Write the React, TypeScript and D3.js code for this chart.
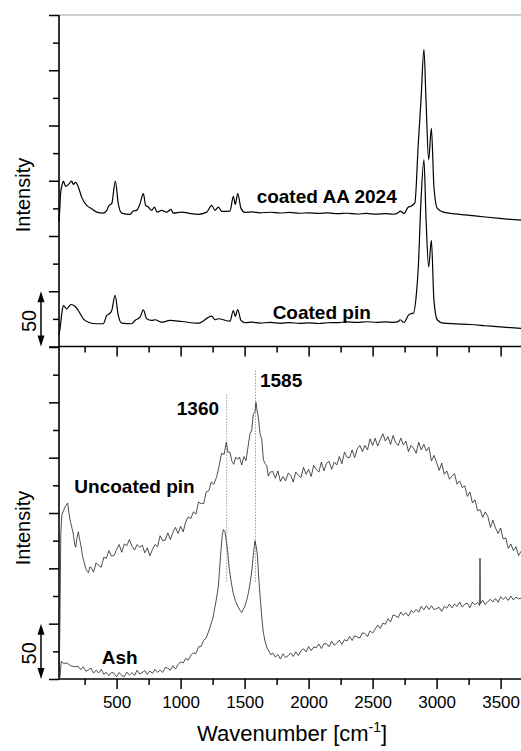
import React, { useEffect, useRef } from 'react';
import * as d3 from 'd3';

// Raman spectra, intensity in arbitrary units (one major tick = 50)
const xTicks = [500, 1000, 1500, 2000, 2500, 3000, 3500];
const xMinorTicks = [250, 750, 1250, 1750, 2250, 2750, 3250];
const yTicks = [0, 50, 100, 150, 200, 250, 300];
const yMinorTicks = [25, 75, 125, 175, 225, 275];
const scaleBarValue = 50;

const coatedAA: [number, number][] = [
  [50, 113], [56, 124], [62, 138], [76, 147], [84, 149.7], [102, 144.9], [123, 146.5], [149, 149.7], [162, 146.7],
  [180, 148.6], [201, 144.3], [227, 135.2], [266, 127.7], [305, 124.7], [345, 121.6], [396, 120.7], [423, 123.2],
  [441, 127.7], [462, 129.3], [490, 149.7], [513, 129.3], [540, 120.7], [605, 119.6], [630, 122.6], [657, 123.2],
  [683, 129.3], [709, 138.3], [727, 127.7], [748, 126.2], [774, 123.2], [795, 126.2], [816, 121.6], [852, 123.2],
  [891, 121.6], [925, 124.1], [942, 120.7], [1009, 121.6], [1060, 120.7], [1138, 119.6], [1204, 121.6], [1243, 127.7],
  [1269, 123.2], [1295, 126.2], [1321, 122.3], [1386, 122.6], [1412, 135.9], [1427, 128.6], [1446, 138.3], [1472, 125],
  [1503, 121.4], [1560, 121.8], [1620, 121], [1700, 121.5], [1780, 120.8], [1850, 121.3], [1930, 120.6], [2000, 121],
  [2080, 120.4], [2150, 120.9], [2230, 120.2], [2300, 120.6], [2380, 119.9], [2450, 120.4], [2530, 119.8], [2600, 120.2],
  [2660, 119.7], [2700, 121], [2715, 122.6], [2745, 120.5], [2779, 126.2], [2800, 127], [2830, 130], [2857, 184],
  [2878, 223], [2901, 269], [2917, 223], [2938, 169], [2959, 197.5], [2979, 144.6], [3006, 125], [3052, 121.6],
  [3150, 120], [3261, 118.7], [3380, 117.2], [3495, 115.9], [3580, 115], [3660, 114.3],
];

const coatedPin: [number, number][] = [
  [50, 10.4], [60, 18], [72, 30], [84, 37], [110, 34.1], [144, 38], [175, 36.5], [201, 32.6], [240, 25.1], [279, 22],
  [345, 20.6], [396, 20.6], [423, 28.1], [443, 29.6], [462, 32.6], [488, 46.2], [513, 28.1], [540, 21.1], [618, 20.6],
  [644, 23.6], [683, 26.5], [709, 33.2], [735, 25.1], [774, 23.6], [800, 24.2], [852, 22], [917, 23.6], [1009, 22.6],
  [1138, 21.1], [1243, 27.4], [1269, 24.2], [1295, 25.1], [1386, 22.9], [1412, 32.6], [1427, 27.2], [1446, 33.5],
  [1472, 23.6], [1503, 21.5], [1560, 22], [1620, 21.2], [1700, 21.8], [1780, 21], [1850, 21.6], [1930, 20.9], [2000, 21.4],
  [2080, 20.8], [2150, 21.5], [2230, 21.6], [2300, 22.3], [2380, 21.8], [2450, 22.4], [2530, 21.9], [2600, 22.3],
  [2660, 21.8], [2700, 22.5], [2715, 24.2], [2745, 21.7], [2779, 28.1], [2808, 29.9], [2818, 30], [2840, 45], [2857, 72],
  [2878, 132], [2901, 169], [2917, 117], [2938, 72], [2959, 96], [2979, 42], [3006, 24], [3052, 21.1], [3150, 20.5],
  [3261, 19.9], [3380, 18.8], [3495, 17.7], [3580, 17], [3660, 16.4],
];

const uncoatedPin: [number, number][] = [
  [52, 4], [58, 60], [64, 130], [72, 148], [84, 152], [100, 156], [118, 159], [128, 150], [136, 144], [150, 137],
  [162, 131], [172, 122], [180, 119], [190, 127], [201, 133], [210, 127], [222, 120], [235, 110], [248, 105], [258, 100],
  [266, 98], [280, 96], [290, 101],
  [300, 101], [320, 96.5], [340, 105], [360, 102.5], [380, 101], [400, 110], [420, 109], [440, 116], [460, 111],
  [480, 111.5], [500, 117], [520, 121.5], [540, 114.5], [560, 122], [580, 120.5], [600, 126], [620, 120], [640, 116.5],
  [660, 121.5], [680, 119], [700, 121], [720, 114], [740, 118.5], [760, 111.3], [780, 117], [800, 121.5], [820, 119.5],
  [840, 129.5], [860, 125], [880, 125.5], [900, 132], [920, 126], [940, 132.5], [960, 137], [980, 131.5], [1000, 138],
  [1020, 133], [1040, 142], [1060, 146.5], [1080, 145], [1100, 151], [1120, 149], [1140, 160], [1160, 158.5],
  [1180, 158.5], [1200, 169], [1220, 170], [1240, 178], [1260, 176], [1280, 182], [1300, 192], [1320, 204], [1340, 203],
  [1357, 214], [1370, 205], [1385, 205], [1400, 197], [1415, 194], [1430, 200.5], [1445, 198.5], [1460, 200.5],
  [1477, 193.4], [1495, 201], [1511, 197.4], [1527, 210], [1542, 221.5], [1556, 225], [1568, 239.6], [1580, 241],
  [1589, 250], [1598, 242], [1607, 237], [1620, 222], [1634, 216.5], [1647, 198], [1659, 194.8], [1672, 193],
  [1685, 183.3], [1700, 187],
  [1720, 187.5], [1740, 181.5], [1760, 188], [1780, 178.5], [1800, 183], [1820, 179], [1840, 186], [1860, 184],
  [1880, 178], [1900, 187], [1920, 184], [1940, 182], [1960, 191.3], [1980, 185], [2000, 189.5], [2020, 183], [2040, 193],
  [2060, 189.3], [2080, 187], [2100, 196], [2120, 188], [2140, 195], [2160, 196.7], [2180, 189.5], [2200, 196],
  [2220, 193.4], [2240, 201], [2260, 194.5], [2280, 205], [2300, 200.5], [2320, 200], [2340, 207], [2360, 200],
  [2380, 208], [2400, 211], [2420, 205.5], [2440, 211], [2460, 207], [2480, 217], [2500, 211], [2520, 217.5],
  [2540, 210.5], [2560, 216.5], [2580, 221.5], [2600, 215], [2620, 219], [2640, 212], [2660, 220], [2680, 213.5],
  [2700, 211], [2720, 217.7], [2740, 211.5], [2760, 215], [2780, 205.5], [2800, 211], [2820, 208.5], [2840, 204],
  [2860, 214], [2880, 207], [2900, 212], [2920, 206], [2940, 209.5], [2960, 197], [2980, 202], [3000, 195.5],
  [3020, 188.5], [3040, 195], [3060, 185], [3080, 188], [3100, 180.5], [3120, 183.5], [3140, 185.5], [3160, 176],
  [3180, 179], [3200, 173], [3220, 174.5], [3240, 165], [3260, 169], [3280, 159], [3300, 162], [3320, 152], [3340, 153],
  [3360, 146], [3380, 151], [3400, 147], [3420, 137], [3440, 143.5], [3460, 136.5], [3480, 131.5], [3500, 136.5],
  [3520, 126.5], [3540, 127.5], [3560, 118], [3580, 122], [3600, 116], [3620, 119.5], [3640, 111.5], [3660, 115.5],
];

const ash: [number, number][] = [
  [50, 0], [58, 2], [64, 12], [68, 16], [75, 15], [90, 14], [110, 14.5], [140, 12], [175, 11],
  [200, 11.5], [220, 8.5], [240, 11], [260, 7], [280, 8.2], [300, 9.8], [320, 5.3], [340, 8], [360, 5.5], [380, 8.7],
  [400, 4.3], [420, 6], [440, 3], [460, 6.1], [480, 5.2], [500, 2], [520, 5.8], [540, 3.1], [560, 2.3], [580, 6.2],
  [600, 3.5], [620, 5.8], [640, 3.2], [660, 7.9], [680, 4.6], [700, 5.8], [720, 7.5], [740, 4.2], [760, 7.3], [780, 5],
  [800, 8.6], [820, 6], [840, 8], [860, 6], [880, 10.4], [900, 9.8], [920, 7.9], [940, 12], [960, 9], [980, 13],
  [1000, 15.5], [1020, 14.5], [1040, 18.7], [1060, 17], [1080, 21.5], [1100, 23.5], [1120, 23], [1140, 29], [1160, 29.5],
  [1180, 35], [1200, 37], [1225, 45], [1250, 54], [1270, 66], [1285, 76], [1295, 84],
  [1305, 100], [1315, 116], [1325, 130], [1335, 135], [1347, 133], [1358, 124], [1368, 115], [1380, 100], [1395, 88],
  [1410, 78], [1430, 70], [1450, 65], [1465, 62], [1477, 60], [1490, 63], [1503, 66], [1518, 72], [1530, 78], [1545, 88],
  [1558, 100], [1570, 114], [1581, 125], [1590, 120], [1600, 112], [1610, 92], [1620, 76], [1635, 55], [1646, 42],
  [1660, 34], [1675, 28], [1690, 25], [1705, 22],
  [1720, 23.5], [1740, 19.7], [1760, 22], [1780, 18.1], [1800, 22.7], [1820, 19.5], [1840, 21], [1860, 23.6], [1880, 20.3],
  [1900, 24.5], [1920, 21.2], [1940, 25.5], [1960, 27.3], [1980, 24.5], [2000, 29.3], [2020, 25.6], [2040, 29],
  [2060, 28.2], [2080, 31.6], [2100, 27.5], [2120, 31.9], [2140, 31.8], [2160, 29.2], [2180, 34.1], [2200, 30.5],
  [2220, 32.3], [2240, 35], [2260, 31.3], [2280, 35.5], [2300, 34.3], [2320, 38.5], [2340, 34.8], [2360, 39.1],
  [2380, 37.9], [2400, 37], [2420, 41.6], [2440, 41.2], [2460, 38.3], [2480, 43.4], [2500, 41.5], [2520, 45.1],
  [2540, 48.7], [2560, 45.8], [2580, 50.5], [2600, 49.5], [2620, 54.5], [2640, 51.5], [2660, 57.9], [2680, 57],
  [2700, 55.5], [2720, 60.5], [2740, 57.5], [2760, 60], [2780, 56.8], [2800, 61.8], [2820, 60], [2840, 62.9], [2860, 60.3],
  [2880, 65.7], [2900, 62.6], [2920, 66.2], [2940, 62.8], [2960, 66.2], [2980, 62.7], [3000, 63.7], [3020, 64.7],
  [3040, 61], [3060, 65.8], [3080, 64], [3100, 67.7], [3120, 64.3], [3140, 67.8], [3160, 65.5], [3180, 69.5], [3200, 65],
  [3220, 67.5], [3240, 68.5], [3260, 64.5], [3280, 69.5], [3300, 67], [3320, 69.3], [3336, 66.3], [3339, 109], [3342, 68],
  [3360, 71.1], [3380, 67.1], [3400, 70], [3420, 72], [3440, 69.6], [3460, 72.7], [3480, 69.3], [3500, 74.4], [3520, 72],
  [3540, 74], [3560, 71], [3580, 75], [3600, 71.5], [3620, 74], [3640, 72.5], [3660, 73],
];

const peakLines = [
  { v: 1360, from: 88, to: 257 },
  { v: 1585, from: 88, to: 280 },
];

const font = '"Liberation Sans", Arial, Helvetica, sans-serif';

const width = 521;
const height = 751;
const left = 59;
const top = 15;
const mid = 346.5;
const bottom = 679;

const x = d3.scaleLinear().domain([50, 3660]).range([left, 521.1]);
const yTop = d3.scaleLinear().domain([0, 300]).range([mid, top]);
const yBot = d3.scaleLinear().domain([0, 300]).range([bottom, mid + 0.5]);

const topLine = d3.line<[number, number]>().x(d => x(d[0])).y(d => yTop(d[1])).curve(d3.curveMonotoneX);
const noisyLine = d3.line<[number, number]>().x(d => x(d[0])).y(d => yBot(d[1]));

const ScaleBar = ({ y }: { y: d3.ScaleLinear<number, number> }) => {
  const y0 = y(0);
  const y1 = y(scaleBarValue);
  const ax = 41;
  return (
    <g>
      <line x1={ax} x2={ax} y1={y1 + 6} y2={y0 - 6} stroke="#000" strokeWidth={1.5} />
      <polygon points={`${ax},${y1} ${ax - 3.5},${y1 + 11} ${ax + 3.5},${y1 + 11}`} fill="#000" />
      <polygon points={`${ax},${y0} ${ax - 3.5},${y0 - 11} ${ax + 3.5},${y0 - 11}`} fill="#000" />
      <text transform={`translate(36, ${(y0 + y1) / 2 + 2}) rotate(-90)`} textAnchor="middle"
        fontFamily={font} fontSize={20}>{scaleBarValue}</text>
    </g>
  );
};

export default function App() {
  const midMajor = useRef<SVGGElement>(null);
  const midMinor = useRef<SVGGElement>(null);
  const botMajor = useRef<SVGGElement>(null);
  const botMinor = useRef<SVGGElement>(null);
  const leftTopMajor = useRef<SVGGElement>(null);
  const leftTopMinor = useRef<SVGGElement>(null);
  const leftBotMajor = useRef<SVGGElement>(null);
  const leftBotMinor = useRef<SVGGElement>(null);

  useEffect(() => {
    const style = (g: any) => {
      g.select('.domain').remove();
      g.selectAll('line').attr('stroke', '#000').attr('stroke-width', 1.5);
      g.selectAll('text').attr('font-family', font).attr('font-size', 17).attr('fill', '#000');
    };
    const none = () => '';
    d3.select(midMajor.current).call(d3.axisBottom(x).tickValues(xTicks).tickSize(10).tickFormat(none)).call(style);
    d3.select(midMinor.current).call(d3.axisBottom(x).tickValues(xMinorTicks).tickSize(6).tickFormat(none)).call(style);
    d3.select(botMajor.current)
      .call(d3.axisBottom(x).tickValues(xTicks).tickSize(10).tickPadding(7).tickFormat(d3.format('d')))
      .call(style);
    d3.select(botMinor.current).call(d3.axisBottom(x).tickValues(xMinorTicks).tickSize(6).tickFormat(none)).call(style);
    d3.select(leftTopMajor.current).call(d3.axisLeft(yTop).tickValues(yTicks).tickSize(10).tickFormat(none)).call(style);
    d3.select(leftTopMinor.current).call(d3.axisLeft(yTop).tickValues(yMinorTicks).tickSize(6).tickFormat(none)).call(style);
    d3.select(leftBotMajor.current).call(d3.axisLeft(yBot).tickValues(yTicks).tickSize(10).tickFormat(none)).call(style);
    d3.select(leftBotMinor.current).call(d3.axisLeft(yBot).tickValues(yMinorTicks).tickSize(6).tickFormat(none)).call(style);
  }, []);

  const boldText = { fontFamily: font, fontSize: 19, fontWeight: 'bold' as const };

  return (
    <svg width={width} height={height} style={{ position: 'absolute', left: 0, top: 0, background: '#fff' }}>
      {/* frame */}
      <line x1={left} x2={width} y1={top} y2={top} stroke="#a0a0a0" strokeWidth={1.2} />
      <line x1={left} x2={left} y1={top} y2={bottom} stroke="#000" strokeWidth={1.6} />
      <line x1={left} x2={width} y1={mid} y2={mid} stroke="#000" strokeWidth={1.6} />
      <line x1={left} x2={width} y1={bottom} y2={bottom} stroke="#000" strokeWidth={1.6} />

      <g ref={midMajor} transform={`translate(0, ${mid})`} />
      <g ref={midMinor} transform={`translate(0, ${mid})`} />
      <g ref={botMajor} transform={`translate(0, ${bottom})`} />
      <g ref={botMinor} transform={`translate(0, ${bottom})`} />
      <g ref={leftTopMajor} transform={`translate(${left}, 0)`} />
      <g ref={leftTopMinor} transform={`translate(${left}, 0)`} />
      <g ref={leftBotMajor} transform={`translate(${left}, 0)`} />
      <g ref={leftBotMinor} transform={`translate(${left}, 0)`} />

      {/* top panel */}
      <path d={topLine(coatedAA) || ''} fill="none" stroke="#000" strokeWidth={1.2} />
      <path d={topLine(coatedPin) || ''} fill="none" stroke="#000" strokeWidth={1.2} />

      {/* bottom panel */}
      {peakLines.map(p => (
        <line key={p.v} x1={x(p.v)} x2={x(p.v)} y1={yBot(p.from)} y2={yBot(p.to)}
          stroke="#444" strokeWidth={0.8} strokeDasharray="1,2" />
      ))}
      <path d={noisyLine(uncoatedPin) || ''} fill="none" stroke="#222" strokeWidth={0.8} />
      <path d={noisyLine(ash) || ''} fill="none" stroke="#222" strokeWidth={0.8} />

      {/* labels */}
      <text x={x(1594)} y={yTop(129.6)} {...boldText}>coated AA 2024</text>
      <text x={x(1719)} y={yTop(24.6)} {...boldText}>Coated pin</text>
      <text x={x(170)} y={yBot(167.8)} {...boldText}>Uncoated pin</text>
      <text x={x(384)} y={yBot(13.6)} {...boldText}>Ash</text>
      <text x={x(970)} y={yBot(238.5)} {...boldText}>1360</text>
      <text x={x(1620)} y={yBot(264.1)} {...boldText}>1585</text>

      <ScaleBar y={yTop} />
      <ScaleBar y={yBot} />

      <text transform="translate(30, 195) rotate(-90)" textAnchor="middle" fontFamily={font} fontSize={20}>Intensity</text>
      <text transform="translate(30, 528) rotate(-90)" textAnchor="middle" fontFamily={font} fontSize={20}>Intensity</text>

      <text x={197} y={741} fontFamily={font} fontSize={22}>
        Wavenumber [cm<tspan dy={-9} fontSize={14}>-1</tspan><tspan dy={9}>]</tspan>
      </text>
    </svg>
  );
}
